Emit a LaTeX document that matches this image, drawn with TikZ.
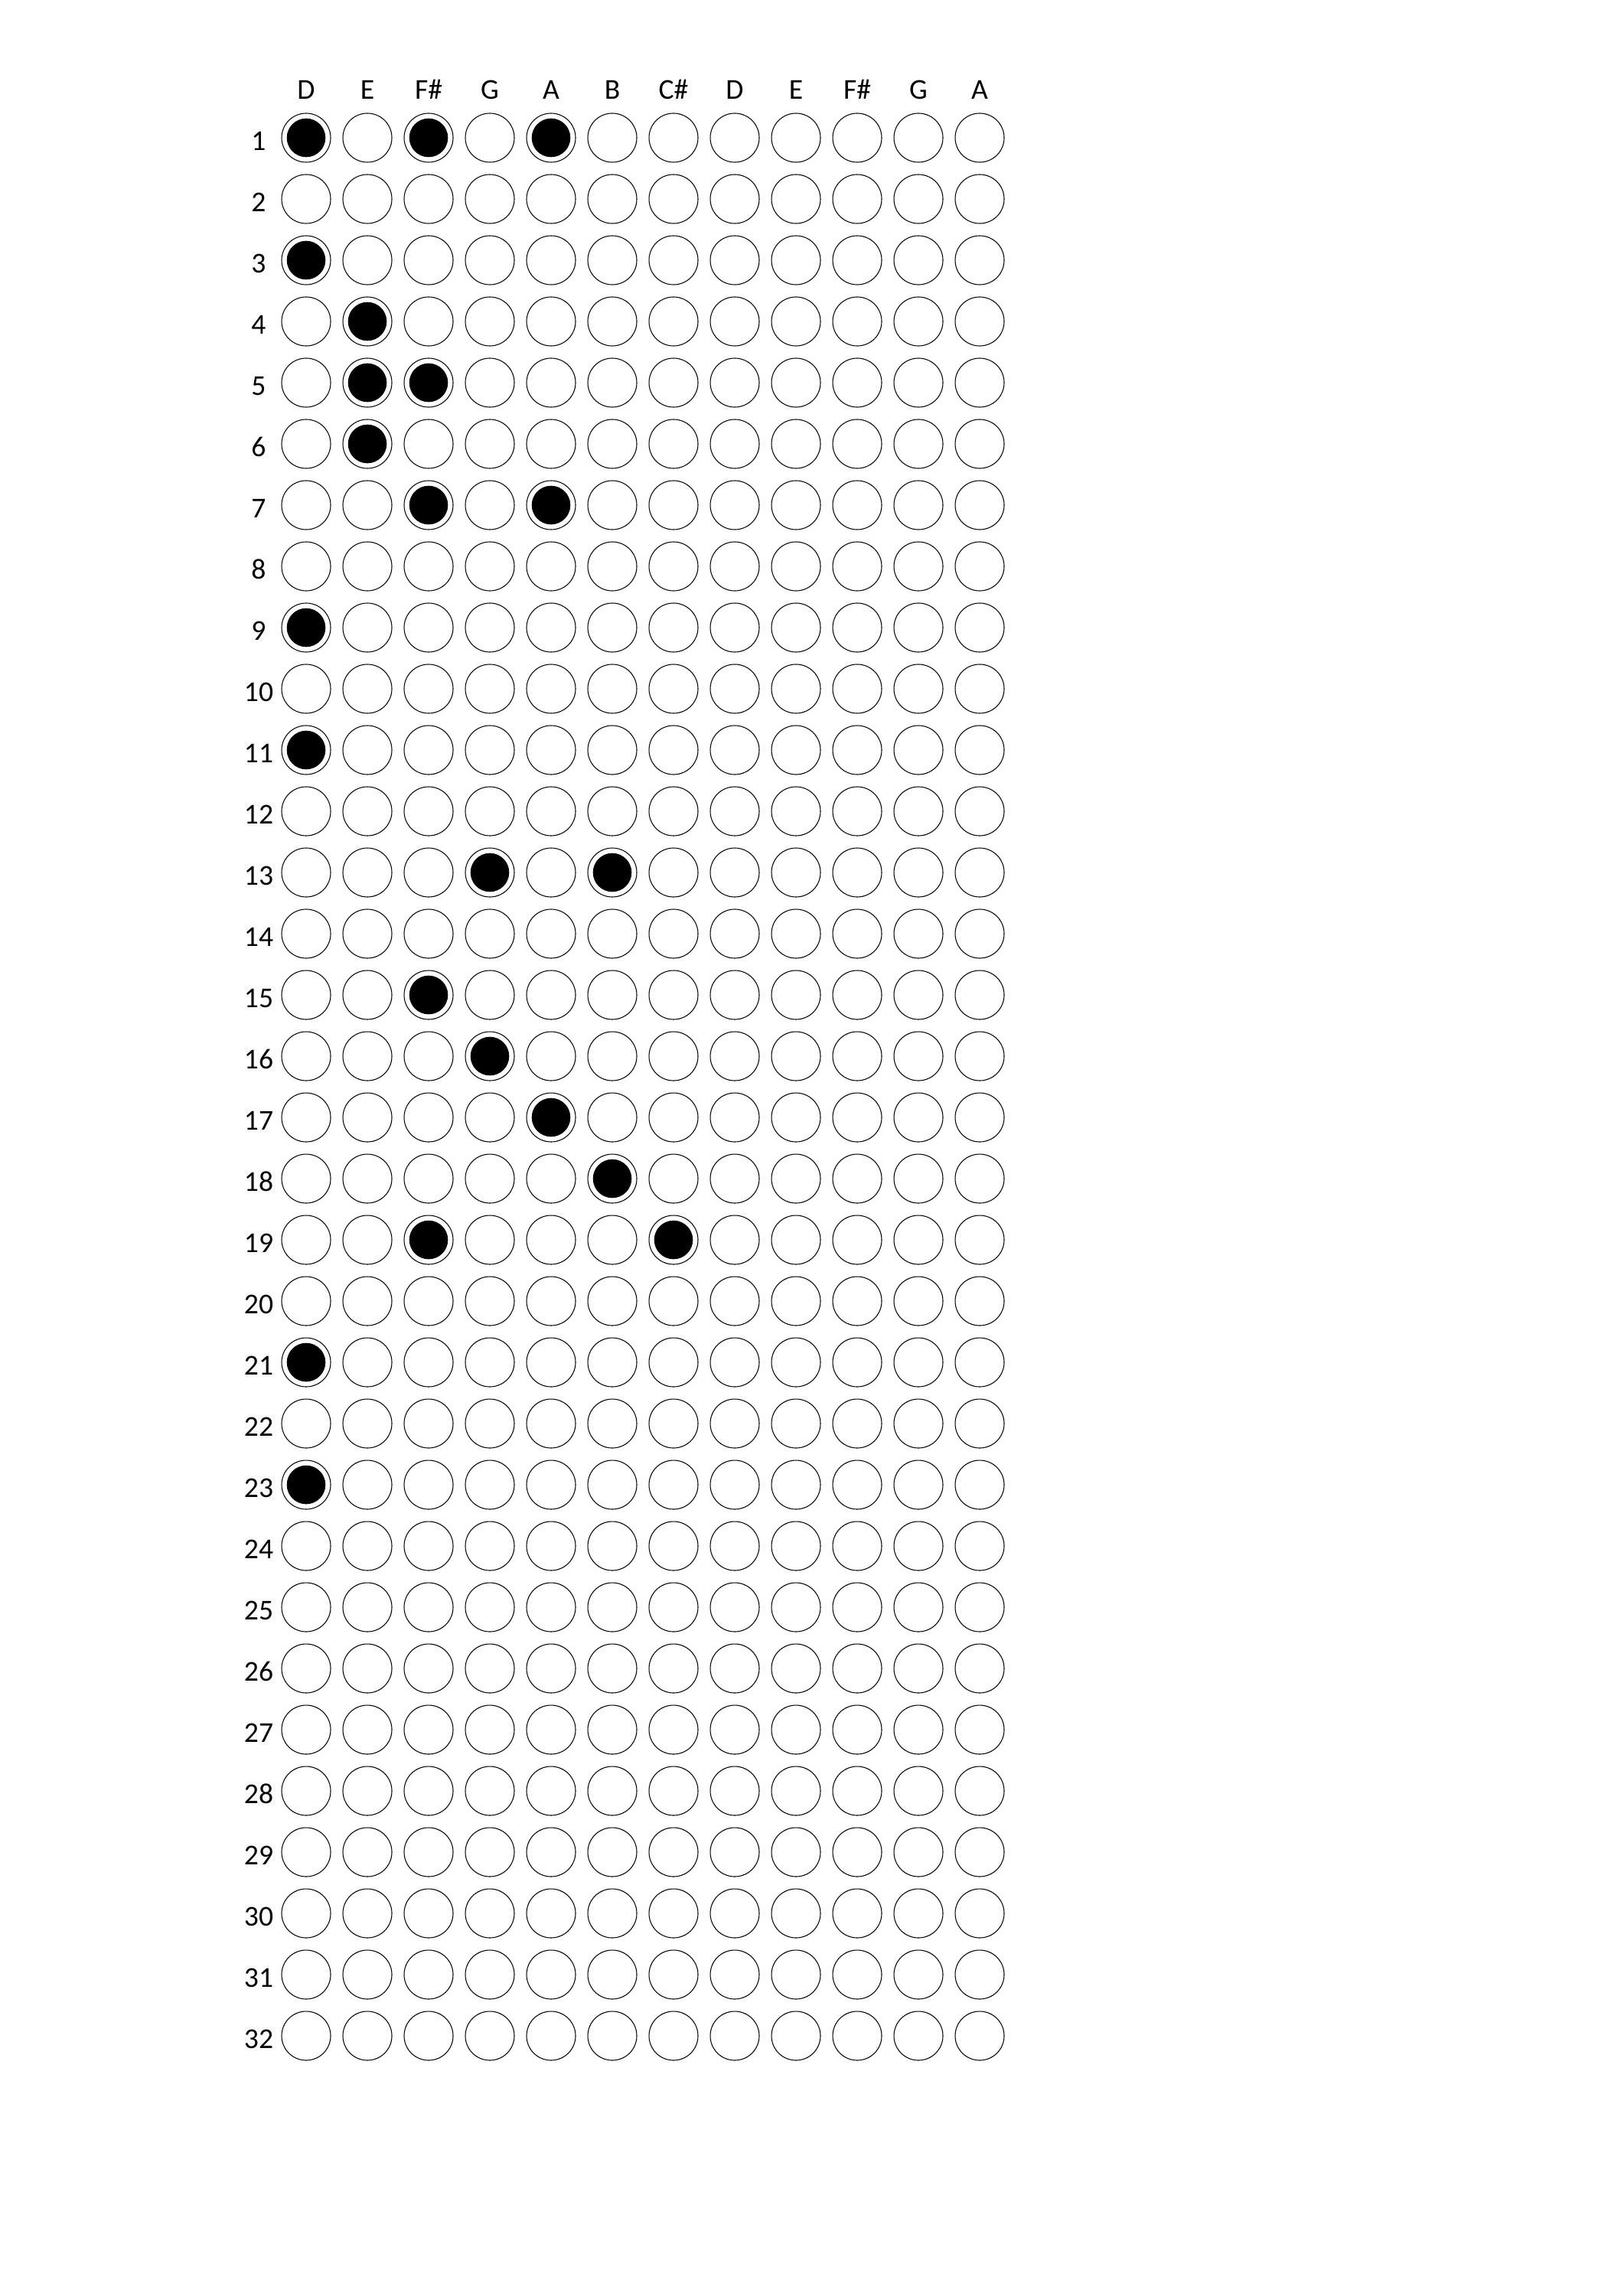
\documentclass[tikz,border=0pt]{standalone}
\usepackage{fontspec}
\setmainfont{Carlito}
\begin{document}
\begin{tikzpicture}[
        hole/.style={circle, draw, line width=0.3pt, minimum size=0.64cm, inner sep=0pt},
        note/.style={font=\fontsize{10.7}{12}\selectfont, inner sep=0pt, anchor=base}
    ]
        \useasboundingbox (0,0) rectangle (21,-30);
        % Note names
        \foreach \n [count=\c] in {D,E,F\#,G,A,B,C\#,D,E,F\#,G,A}
            \node[note] (n-\c) at ({4+0.8*(\c-1)},-1.30) {\n};
        % Rows of holes
        \foreach \r in {1,...,32} {
            \node[note] (r-\r) at (3.38,{-1.8-0.8*(\r-1)-0.167}) {\r};
            \foreach \c in {1,...,12}
                \node[hole] (h-\r-\c) at ({4+0.8*(\c-1)},{-1.8-0.8*(\r-1)}) {};
        }
        % Punched holes
        \foreach \r/\c in {1/1,1/3,1/5,3/1,4/2,5/2,5/3,6/2,7/3,7/5,9/1,11/1,13/4,13/6,15/3,16/4,17/5,18/6,19/3,19/7,21/1,23/1}
            \fill (h-\r-\c) circle (0.253);
    \end{tikzpicture}
\end{document}
